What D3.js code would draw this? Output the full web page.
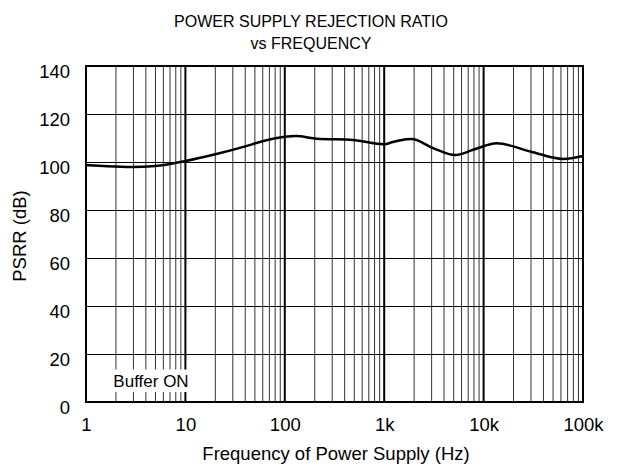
<!DOCTYPE html>
<html lang="en">
<head>
<meta charset="utf-8">
<title>PSRR vs Frequency</title>
<script src="https://d3js.org/d3.v7.min.js"></script>
<style>
    body { margin: 0; background: #fff; }
    text { font-family: "Liberation Sans", Arial, sans-serif; fill: #000; }
</style>
</head>
<body>
<div id="chart"></div>
<script>
    // data (Hz, dB)
    var freqs = [1, 1.5, 2.9, 5, 10, 20, 40, 56, 100, 130, 210, 485, 907, 1000, 1220, 1680, 1890, 3100, 5150, 8000, 13500, 30000, 63000, 100000];
    var psrr  = [98.7, 98.3, 97.9, 98.3, 100.4, 103.2, 106.5, 108.3, 110.5, 110.8, 109.7, 109.2, 107.5, 107.4, 108.3, 109.5, 109.6, 105.8, 102.9, 105.2, 107.8, 104.3, 101.3, 102.5];
    var xTicks = [1, 10, 100, 1000, 10000, 100000];
    var xTickLabels = ["1", "10", "100", "1k", "10k", "100k"];
    var yTicks = [0, 20, 40, 60, 80, 100, 120, 140];

    var W = 624, H = 466;
    var pLeft = 86, pRight = 583, pTop = 66, pBottom = 402;
    var fnt = "Liberation Sans, Arial, sans-serif";

    var svg = d3.select("#chart").append("svg")
        .attr("width", W).attr("height", H);

    var x = d3.scaleLog().domain([1, 100000]).range([pLeft, pRight]);
    var y = d3.scaleLinear().domain([0, 140]).range([pBottom, pTop]);

    // minor vertical grid
    var minor = [];
    for (var d = 1; d < 100000; d *= 10) {
        for (var k = 2; k <= 9; k++) minor.push(d * k);
    }
    svg.append("g").selectAll("line").data(minor).enter().append("line")
        .attr("x1", function (d) { return x(d); })
        .attr("x2", function (d) { return x(d); })
        .attr("y1", pTop).attr("y2", pBottom)
        .attr("stroke", "#333").attr("stroke-width", 1);

    // horizontal grid
    svg.append("g").selectAll("line").data(yTicks).enter().append("line")
        .attr("x1", pLeft).attr("x2", pRight)
        .attr("y1", function (d) { return Math.round(y(d)) + 0.5; })
        .attr("y2", function (d) { return Math.round(y(d)) + 0.5; })
        .attr("stroke", "#000").attr("stroke-width", 1);

    // decade lines
    svg.append("g").selectAll("line").data(xTicks).enter().append("line")
        .attr("x1", function (d) { return x(d); })
        .attr("x2", function (d) { return x(d); })
        .attr("y1", pTop).attr("y2", pBottom)
        .attr("stroke", "#000").attr("stroke-width", 2);

    // label box
    svg.append("rect")
        .attr("x", 106).attr("y", 369.5).attr("width", 88).attr("height", 22.5)
        .attr("fill", "#fff");
    svg.append("text")
        .attr("x", 151).attr("y", 387)
        .attr("text-anchor", "middle")
        .style("font-size", "17px")
        .text("Buffer ON");

    // curve
    var line = d3.line()
        .x(function (d, i) { return x(freqs[i]); })
        .y(function (d) { return y(d); })
        .curve(d3.curveMonotoneX);
    svg.append("path")
        .datum(psrr)
        .attr("d", line)
        .attr("fill", "none")
        .attr("stroke", "#000")
        .attr("stroke-width", 2.5);

    // frame
    svg.append("rect")
        .attr("x", pLeft).attr("y", pTop)
        .attr("width", pRight - pLeft).attr("height", pBottom - pTop)
        .attr("fill", "none").attr("stroke", "#000").attr("stroke-width", 2);

    // axes (labels only)
    var xAxis = d3.axisBottom(x).tickValues(xTicks)
        .tickFormat(function (d, i) { return xTickLabels[i]; })
        .tickSize(0).tickPadding(16);
    var gx = svg.append("g").attr("transform", "translate(0," + pBottom + ")").call(xAxis);
    gx.select(".domain").remove();
    gx.selectAll("text").style("font-size", "18.5px").attr("fill", "#000")
        .style("font-family", fnt);

    var yAxis = d3.axisLeft(y).tickValues(yTicks).tickSize(0).tickPadding(16);
    var gy = svg.append("g").attr("transform", "translate(" + pLeft + ",0)").call(yAxis);
    gy.select(".domain").remove();
    gy.selectAll("text").style("font-size", "18.5px").attr("fill", "#000")
        .attr("dy", "0.62em")
        .style("font-family", fnt);

    // titles
    svg.append("text").attr("x", 311).attr("y", 27).attr("text-anchor", "middle")
        .style("font-size", "16px").text("POWER SUPPLY REJECTION RATIO");
    svg.append("text").attr("x", 311).attr("y", 49).attr("text-anchor", "middle")
        .style("font-size", "16px").text("vs FREQUENCY");
    svg.append("text").attr("x", 336).attr("y", 460).attr("text-anchor", "middle")
        .style("font-size", "18.5px").text("Frequency of Power Supply (Hz)");
    svg.append("text")
        .attr("transform", "translate(26,236) rotate(-90)")
        .attr("text-anchor", "middle")
        .style("font-size", "18.5px").text("PSRR (dB)");
</script>
</body>
</html>
